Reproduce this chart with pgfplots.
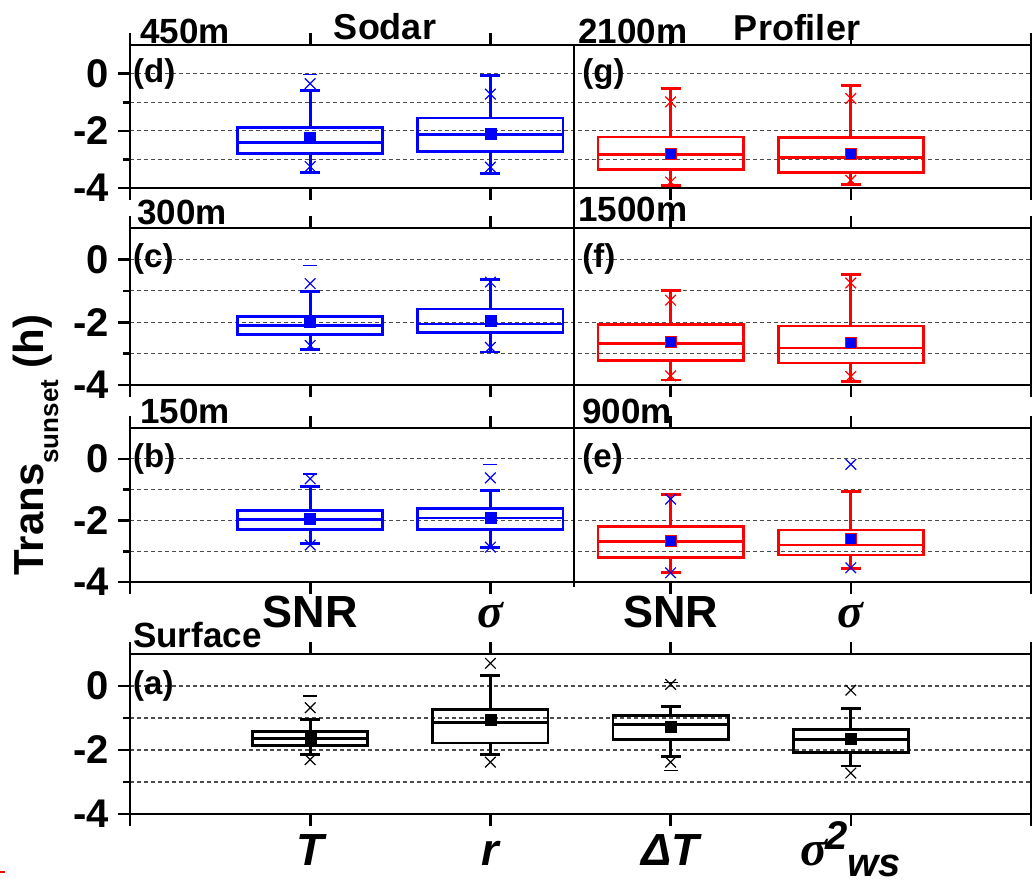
\documentclass[border=0pt]{standalone}
\usepackage{fontspec}
\setmainfont{Liberation Sans}
\newfontfamily\symf{Liberation Serif}
\usepackage{pgfplots}
\pgfplotsset{compat=1.18}
\usepgfplotslibrary{statistics}

\newcommand\fs[1]{\fontsize{#1}{#1}\selectfont\bfseries}

\pgfplotsset{
 panel/.style={
  scale only axis, width=901pt,
  xmin=0, xmax=5, ymin=-4, ymax=1,
  xtick={0,1,2,3,4,5}, xticklabels={},
  ytick={-4,-2,0}, yticklabels={-4,-2,0},
  minor ytick={-3,-1},
  tick align=outside, xtick pos=both, ytick pos=left,
  major tick length=12pt, minor tick length=7pt,
  tick style={black, line width=2.6pt},
  axis line style={line width=2.6pt},
  ymajorgrids, yminorgrids,
  major grid style={black!70, line width=1.1pt, dash pattern=on 4pt off 3pt},
  minor grid style={black!70, line width=1.1pt, dash pattern=on 4pt off 3pt},
  yticklabel style={font=\fs{40}, inner sep=0pt, xshift=-9pt},
  clip=false,
  boxplot/draw direction=y,
  boxplot/box extend=0.805, boxplot/whisker extend=0.11,
  boxplot/every median/.style={line width=2.8pt},
  boxplot/every whisker/.style={line width=2.8pt},
  boxplot/every box/.style={line width=2.8pt},
 },
 bx/.style={line width=2.8pt, solid, draw=#1},
 xm/.style={only marks, mark=x, mark size=7.5pt, mark options={line width=1.2pt, solid, draw=#1}},
 dm/.style={only marks, mark=-, mark size=7pt, mark options={line width=1.2pt, solid, draw=#1}},
 mn/.style={only marks, mark=square*, mark size=5.5pt, mark options={fill=blue, draw=#1, line width=0.6pt}},
}
\tikzset{
 lab/.style={font=\fs{35}, inner sep=0pt, anchor=base west},
 plab/.style={font=\fs{33}, inner sep=0pt, anchor=west},
}

\begin{document}
\begin{tikzpicture}
\path[use as bounding box] (0pt,0pt) rectangle (1034pt,-884pt);

% ---------------- Row 1: (d) 450m Sodar, (g) 2100m Profiler
\begin{axis}[panel, at={(130pt,-45pt)}, anchor=north west, height=143pt]
\addplot[bx=blue, boxplot prepared={draw position=1, lower whisker=-3.45, lower quartile=-2.78, median=-2.41, upper quartile=-1.89, upper whisker=-0.58}] coordinates {};
\addplot[bx=blue, boxplot prepared={draw position=2, lower whisker=-3.48, lower quartile=-2.71, median=-2.13, upper quartile=-1.55, upper whisker=-0.06}] coordinates {};
\addplot[bx=red, boxplot prepared={draw position=3, lower whisker=-3.91, lower quartile=-3.36, median=-2.82, upper quartile=-2.22, upper whisker=-0.52}] coordinates {};
\addplot[bx=red, boxplot prepared={draw position=4, lower whisker=-3.88, lower quartile=-3.46, median=-2.92, upper quartile=-2.24, upper whisker=-0.42}] coordinates {};
\addplot[xm=blue] coordinates {(1,-0.35) (1,-3.25) (2,-0.72) (2,-3.27)};
\addplot[dm=blue] coordinates {(1,-0.02)};
\addplot[xm=red] coordinates {(3,-0.99) (3,-3.79) (4,-0.87) (4,-3.73)};
\addplot[mn=blue] coordinates {(1,-2.26) (2,-2.10)};
\addplot[mn=red] coordinates {(3,-2.79) (4,-2.82)};
\node[plab] at (axis cs:0,0) [xshift=3pt] {(d)};
\node[plab] at (axis cs:2.46,0) [xshift=9pt] {(g)};
\end{axis}

% ---------------- Row 2: (c) 300m, (f) 1500m
\begin{axis}[panel, at={(130pt,-228pt)}, anchor=north west, height=157pt]
\addplot[bx=blue, boxplot prepared={draw position=1, lower whisker=-2.88, lower quartile=-2.40, median=-2.11, upper quartile=-1.81, upper whisker=-1.01}] coordinates {};
\addplot[bx=blue, boxplot prepared={draw position=2, lower whisker=-2.95, lower quartile=-2.34, median=-2.06, upper quartile=-1.58, upper whisker=-0.63}] coordinates {};
\addplot[bx=red, boxplot prepared={draw position=3, lower whisker=-3.84, lower quartile=-3.22, median=-2.67, upper quartile=-2.07, upper whisker=-1.00}] coordinates {};
\addplot[bx=red, boxplot prepared={draw position=4, lower whisker=-3.88, lower quartile=-3.30, median=-2.82, upper quartile=-2.12, upper whisker=-0.48}] coordinates {};
\addplot[xm=blue] coordinates {(1,-0.77) (1,-2.74) (2,-0.72) (2,-2.80)};
\addplot[dm=blue] coordinates {(1,-0.20)};
\addplot[xm=red] coordinates {(3,-1.30) (3,-3.71) (4,-0.75) (4,-3.73)};
\addplot[mn=blue] coordinates {(1,-2.00) (2,-1.97)};
\addplot[mn=red] coordinates {(3,-2.61) (4,-2.67)};
\node[plab] at (axis cs:0,0) [xshift=3pt] {(c)};
\node[plab] at (axis cs:2.46,0) [xshift=9pt] {(f)};
\end{axis}

% ---------------- Row 3: (b) 150m, (e) 900m
\begin{axis}[panel, at={(130pt,-428pt)}, anchor=north west, height=154pt,
  xticklabels={,SNR,{\symf\bfseries\itshape\fontsize{48}{48}\selectfont σ},SNR,{\symf\bfseries\itshape\fontsize{48}{48}\selectfont σ},},
  xticklabel pos=lower,
  xticklabel style={font=\fs{45}, text height=33pt, text depth=0pt, anchor=north, inner sep=0pt}]
\addplot[bx=blue, boxplot prepared={draw position=1, lower whisker=-2.75, lower quartile=-2.29, median=-1.98, upper quartile=-1.68, upper whisker=-0.89}] coordinates {};
\addplot[bx=blue, boxplot prepared={draw position=2, lower whisker=-2.89, lower quartile=-2.29, median=-1.92, upper quartile=-1.62, upper whisker=-1.02}] coordinates {};
\addplot[bx=red, boxplot prepared={draw position=3, lower whisker=-3.70, lower quartile=-3.20, median=-2.69, upper quartile=-2.21, upper whisker=-1.15}] coordinates {};
\addplot[bx=red, boxplot prepared={draw position=4, lower whisker=-3.57, lower quartile=-3.12, median=-2.80, upper quartile=-2.31, upper whisker=-1.06}] coordinates {};
\addplot[xm=blue] coordinates {(1,-0.65) (1,-2.80) (2,-0.62) (2,-2.87)};
\addplot[dm=blue] coordinates {(1,-0.49) (2,-0.18)};
\addplot[xm=blue] coordinates {(3,-1.31) (3,-3.70) (4,-0.18) (4,-3.54)};
\addplot[mn=blue] coordinates {(1,-1.94) (2,-1.92)};
\addplot[mn=red] coordinates {(3,-2.67) (4,-2.61)};
\node[plab] at (axis cs:0,0) [xshift=3pt] {(b)};
\node[plab] at (axis cs:2.46,0) [xshift=9pt] {(e)};
\end{axis}

% ---------------- Row 4: (a) Surface
\begin{axis}[panel, at={(130pt,-654pt)}, anchor=north west, height=160pt,
  boxplot/box extend=0.64,
  xticklabels={,{\itshape T},{\itshape r},{\itshape ΔT},{{\symf\bfseries\itshape\fontsize{50}{50}\selectfont σ}\kern-2pt\raisebox{16pt}{\fs{40}\itshape 2}\raisebox{-11pt}{\fs{40}\itshape ws}},},
  xticklabel pos=lower,
  xticklabel style={font=\fs{45}, text height=32pt, text depth=0pt, anchor=north, inner sep=0pt, yshift=-7pt}]
\addplot[bx=black, boxplot prepared={draw position=1, lower whisker=-2.13, lower quartile=-1.86, median=-1.64, upper quartile=-1.41, upper whisker=-1.04}] coordinates {};
\addplot[bx=black, boxplot prepared={draw position=2, lower whisker=-2.13, lower quartile=-1.78, median=-1.15, upper quartile=-0.73, upper whisker=0.33}] coordinates {};
\addplot[bx=black, boxplot prepared={draw position=3, lower whisker=-2.21, lower quartile=-1.67, median=-1.20, upper quartile=-0.92, upper whisker=-0.63}] coordinates {};
\addplot[bx=black, boxplot prepared={draw position=4, lower whisker=-2.50, lower quartile=-2.09, median=-1.67, upper quartile=-1.36, upper whisker=-0.71}] coordinates {};
\addplot[xm=black] coordinates {(1,-0.68) (1,-2.30) (2,0.71) (2,-2.38) (3,0.05) (3,-2.38) (4,-0.13) (4,-2.72)};
\addplot[dm=black] coordinates {(1,-0.31) (3,0.12) (3,-2.63)};
\addplot[only marks, mark=square*, mark size=5.5pt, black] coordinates {(1,-1.65) (2,-1.04) (3,-1.28) (4,-1.65)};
\node[plab] at (axis cs:0,0) [xshift=3pt] {(a)};
\end{axis}

% divider between Sodar and Profiler columns
\draw[line width=2.6pt] (574pt,-45pt) -- (574pt,-587pt);

% labels
\node[lab] at (140pt,-43pt) {450m};
\node[font=\fs{36}, inner sep=0pt, anchor=base] at (385pt,-39pt) {Sodar};
\node[lab] at (578pt,-43pt) {2100m};
\node[font=\fs{36}, inner sep=0pt, anchor=base] at (797pt,-40pt) {Profiler};
\node[lab] at (137pt,-224pt) {300m};
\node[lab] at (578pt,-221pt) {1500m};
\node[lab] at (140pt,-423pt) {150m};
\node[lab] at (582pt,-423pt) {900m};
\node[lab] at (133pt,-647pt) {Surface};

% y label
\node[rotate=90, anchor=base, inner sep=0pt, font=\fs{42}] at (43pt,-445pt)
  {Trans\raisebox{-15pt}{\fs{26}sunset} (h)};

\draw[red, line width=2pt] (0pt,-872pt) -- (5pt,-872pt);
\end{tikzpicture}
\end{document}
